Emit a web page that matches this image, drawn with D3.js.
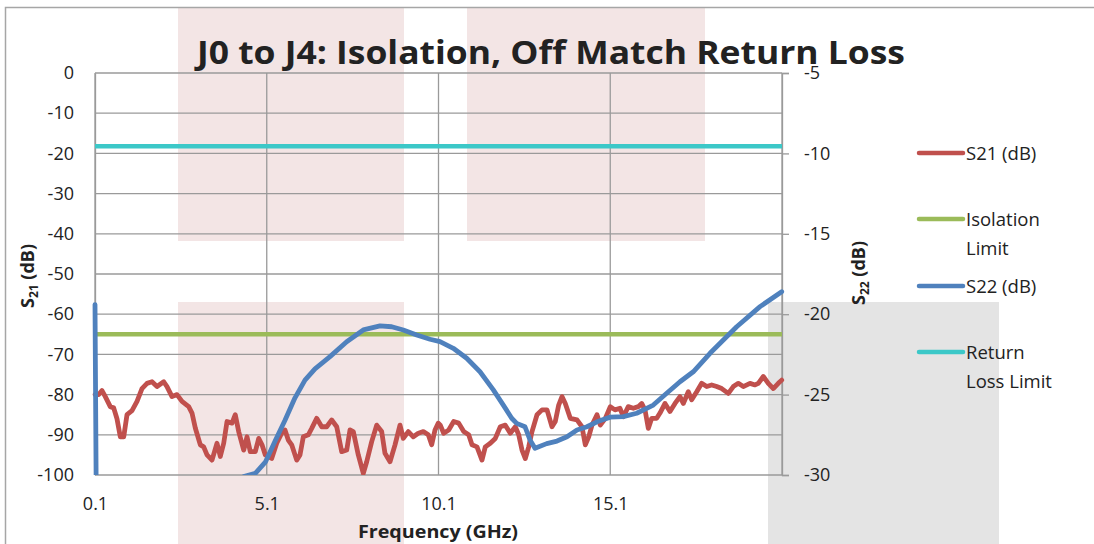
<!DOCTYPE html>
<html><head><meta charset="utf-8">
<script src="https://cdn.jsdelivr.net/npm/d3@7/dist/d3.min.js"></script>
<style>
html,body{margin:0;padding:0;background:#fff;}
svg{display:block;font-family:"Open Sans","Noto Sans",sans-serif;}
</style></head>
<body><svg id="c" width="1094" height="544"></svg>
<script>
const titleText = "J0 to J4: Isolation, Off Match Return Loss";
const xTicks = [0.1, 5.1, 10.1, 15.1, 20.1];
const xTickLabels = ["0.1", "5.1", "10.1", "15.1", ""];
const leftTicks = [0,-10,-20,-30,-40,-50,-60,-70,-80,-90,-100];
const rightTicks = [-5,-10,-15,-20,-25,-30];
const legendLabels = [["S21 (dB)"], ["Isolation", "Limit"], ["S22 (dB)"], ["Return", "Loss Limit"]];

const freqS21 = [0.1,0.208,0.304,0.400,0.545,0.644,0.740,0.837,0.936,1.032,1.177,1.323,1.468,1.614,1.759,1.905,2.100,2.196,2.342,2.487,2.633,2.828,2.924,3.020,3.166,3.264,3.361,3.506,3.652,3.748,3.847,3.943,4.088,4.184,4.283,4.429,4.525,4.621,4.767,4.866,4.962,5.058,5.244,5.390,5.535,5.631,5.727,5.826,5.972,6.068,6.164,6.310,6.409,6.554,6.700,6.845,6.991,7.137,7.282,7.428,7.524,7.620,7.765,7.911,8.010,8.155,8.301,8.446,8.542,8.688,8.834,8.979,9.075,9.221,9.366,9.512,9.658,9.803,9.902,9.998,10.094,10.152,10.251,10.397,10.542,10.688,10.834,10.979,11.075,11.221,11.366,11.462,11.608,11.754,11.899,12.045,12.190,12.336,12.435,12.531,12.627,12.726,12.822,12.968,13.113,13.259,13.404,13.500,13.599,13.695,13.791,13.937,14.132,14.277,14.374,14.473,14.569,14.714,14.810,14.956,15.101,15.238,15.384,15.480,15.625,15.771,15.917,16.015,16.112,16.208,16.307,16.452,16.548,16.694,16.839,16.985,17.130,17.227,17.372,17.471,17.617,17.762,17.908,18.053,18.199,18.345,18.537,18.682,18.828,18.973,19.168,19.314,19.410,19.556,19.701,19.847,19.992,20.091];
const s21 = [-80,-80,-79,-80.5,-83,-83.3,-86,-90.5,-90.5,-85,-84,-81.7,-78.5,-77.2,-76.8,-78,-76.8,-78,-80.5,-80,-81.7,-83,-84.6,-88.3,-92.5,-93,-95,-96.3,-92.1,-95.4,-92.1,-86.7,-87.1,-85,-89.2,-93.8,-90.5,-94.2,-94.2,-90.9,-92.5,-95,-95.9,-92.1,-89.6,-88.8,-91.3,-92.5,-96.3,-95,-90.5,-90,-88.4,-85.9,-88,-88,-86.3,-88,-94.2,-93.8,-88.8,-89.2,-95,-99.6,-96.7,-91.7,-87.6,-89.2,-94.6,-96.7,-92.5,-87.6,-90.9,-89.2,-90.5,-89.6,-89.2,-90,-92.5,-88.8,-87.1,-87.6,-89.6,-88.8,-86.7,-87.1,-89.2,-90,-92.5,-93,-96.3,-93,-92.1,-90.9,-88,-87.6,-89.6,-88,-90,-93.8,-95.9,-93,-89.2,-85,-83.8,-83.8,-88,-86.7,-82.6,-80.5,-82.2,-85.9,-86.3,-88,-92.5,-90.5,-87.6,-85,-87.6,-85.9,-83,-83.8,-83.4,-85.5,-83,-83.4,-83,-82.2,-83.8,-88.4,-85.9,-85.9,-84.6,-82.2,-84.2,-82.2,-80.5,-82.2,-79.3,-81.3,-79.3,-77.2,-78,-77.6,-78,-78.5,-79.7,-78,-77.2,-78,-77.2,-77.6,-77.2,-75.5,-77.2,-78.5,-77.2,-76.4];

const freqS22 = [0.1,0.15,2.0,4.0,4.429,4.767,5.058,5.340,5.631,5.922,6.213,6.504,6.941,7.427,7.911,8.397,8.738,9.075,9.465,9.853,10.144,10.531,10.921,11.308,11.696,11.987,12.231,12.377,12.618,12.764,12.909,13.250,13.550,13.841,14.132,14.423,14.714,15.101,15.480,15.870,16.353,16.743,17.130,17.517,18.004,18.781,19.460,20.091];
const s22 = [-19.4,-36,-34,-31,-30.1,-29.9,-29.2,-27.9,-26.6,-25.2,-24.1,-23.4,-22.64,-21.71,-20.98,-20.73,-20.78,-20.98,-21.29,-21.56,-21.71,-22.12,-22.74,-23.58,-24.71,-25.65,-26.47,-26.79,-27.0,-27.82,-28.34,-28.05,-27.89,-27.62,-27.2,-27.0,-26.69,-26.4,-26.37,-26.16,-25.65,-24.92,-24.2,-23.58,-22.43,-20.78,-19.53,-18.6];

const limitFreq = [0.1, 20.1];
const isolationLimit = [-65, -65];      // S21 axis
const returnLossLimit = [-9.55, -9.55]; // S22 axis

const colors = {s21:"#c0504d", iso:"#9bbb59", s22:"#4f81bd", rl:"#3cc8c8"};

const svg = d3.select("#c");
const L = 95, R = 782, T = 73, B = 475;
const x = d3.scaleLinear().domain([0.1, 20.1]).range([L, R]);
const yL = d3.scaleLinear().domain([-100, 0]).range([B, T]);
const yR = d3.scaleLinear().domain([-30, -5]).range([B, T]);
const fmt = d => String(d);

// background shading blocks
const shades = [
  {x0:178,x1:404,y0:7,y1:241,c:"#f3e5e5"},
  {x0:467,x1:705,y0:7,y1:241,c:"#f3e5e5"},
  {x0:178,x1:404,y0:302,y1:544,c:"#f3e5e5"},
  {x0:768,x1:999,y0:302,y1:544,c:"#e4e4e4"}
];
svg.selectAll("rect.shade").data(shades).join("rect").attr("class","shade")
  .attr("x",d=>d.x0).attr("y",d=>d.y0).attr("width",d=>d.x1-d.x0).attr("height",d=>d.y1-d.y0).attr("fill",d=>d.c);

// outer frame
svg.append("path").attr("d","M5.5,544 V7.5 H1094").attr("fill","none").attr("stroke","#a6a6a6").attr("stroke-width",1.5);

const gridC = "#9a9a9a";
svg.append("g").selectAll("line").data(leftTicks).join("line")
  .attr("x1",L).attr("x2",R).attr("y1",d=>yL(d)).attr("y2",d=>yL(d))
  .attr("stroke",gridC).attr("stroke-width",1.3);
svg.append("g").selectAll("line").data(xTicks).join("line")
  .attr("x1",d=>x(d)).attr("x2",d=>x(d)).attr("y1",T).attr("y2",B)
  .attr("stroke",gridC).attr("stroke-width",1.3);

const tickFont = 18;
// right axis
const rAxis = d3.axisRight(yR).tickValues(rightTicks).tickSize(7).tickPadding(15).tickFormat(fmt);
const gR = svg.append("g").attr("transform",`translate(${R},0)`).call(rAxis);
gR.select(".domain").attr("stroke",gridC).attr("stroke-width",1.3);
gR.selectAll(".tick line").attr("stroke",gridC).attr("stroke-width",1.3);
gR.selectAll("text").attr("font-size",tickFont).attr("fill","#222").attr("font-family","Open Sans");

// left axis
const lAxis = d3.axisLeft(yL).tickValues(leftTicks).tickSize(0).tickPadding(21).tickFormat(fmt);
const gL = svg.append("g").attr("transform",`translate(${L},0)`).call(lAxis);
gL.select(".domain").attr("stroke",gridC).attr("stroke-width",1.3);
gL.selectAll("text").attr("font-size",tickFont).attr("fill","#222").attr("font-family","Open Sans");

// bottom axis
const bAxis = d3.axisBottom(x).tickValues(xTicks).tickSize(0).tickPadding(22).tickFormat((d,i)=>xTickLabels[i]);
const gB = svg.append("g").attr("transform",`translate(0,${B})`).call(bAxis);
gB.select(".domain").remove();
gB.selectAll("text").attr("font-size",tickFont).attr("fill","#222").attr("font-family","Open Sans");

// clip
svg.append("clipPath").attr("id","plot").append("rect").attr("x",L-3).attr("y",T-3).attr("width",R-L+6).attr("height",B-T+3);
const g = svg.append("g").attr("clip-path","url(#plot)");

const lineL = d3.line().x(d=>x(d[0])).y(d=>yL(d[1]));
const lineR = d3.line().x(d=>x(d[0])).y(d=>yR(d[1]));

g.append("path").datum(limitFreq.map((f,i)=>[f,returnLossLimit[i]])).attr("d",lineR)
  .attr("fill","none").attr("stroke",colors.rl).attr("stroke-width",4.5);
g.append("path").datum(freqS21.map((f,i)=>[f,s21[i]])).attr("d",lineL)
  .attr("fill","none").attr("stroke",colors.s21).attr("stroke-width",4.8).attr("stroke-linejoin","round").attr("stroke-linecap","round");
g.append("path").datum(limitFreq.map((f,i)=>[f,isolationLimit[i]])).attr("d",lineL)
  .attr("fill","none").attr("stroke",colors.iso).attr("stroke-width",4.5);
g.append("path").datum(freqS22.map((f,i)=>[f,s22[i]])).attr("d",lineR)
  .attr("fill","none").attr("stroke",colors.s22).attr("stroke-width",4.8).attr("stroke-linejoin","round").attr("stroke-linecap","round");

// title
svg.append("text").attr("x",551).attr("y",64).attr("text-anchor","middle")
  .attr("font-size",33).attr("font-weight","bold").attr("fill","#222")
  .attr("textLength",708).attr("lengthAdjust","spacingAndGlyphs").text(titleText);

// axis titles
svg.append("text").attr("x",438).attr("y",538).attr("text-anchor","middle")
  .attr("font-size",18).attr("font-weight","bold").attr("fill","#222")
  .attr("textLength",160).attr("lengthAdjust","spacingAndGlyphs").text("Frequency (GHz)");

function yTitle(xp, yp, sub){
  const t = svg.append("text").attr("transform",`translate(${xp},${yp}) rotate(-90)`).attr("text-anchor","middle")
    .attr("font-size",18).attr("font-weight","bold").attr("fill","#222");
  t.append("tspan").text("S");
  t.append("tspan").attr("font-size",12).attr("dy",4).text(sub);
  t.append("tspan").attr("dy",-4).text(" (dB)");
}
yTitle(34, 276, "21");
yTitle(865, 273, "22");

// legend
const legendColors = [colors.s21, colors.iso, colors.s22, colors.rl];
const legendY = [153, 219, 286, 352];
const lg = svg.append("g");
legendLabels.forEach((lab,i)=>{
  lg.append("line").attr("x1",919).attr("x2",963).attr("y1",legendY[i]).attr("y2",legendY[i])
    .attr("stroke",legendColors[i]).attr("stroke-width",4.5).attr("stroke-linecap","round");
  const t = lg.append("text").attr("x",966).attr("y",legendY[i]+7).attr("font-size",18.5).attr("fill","#222");
  lab.forEach((s,j)=>t.append("tspan").attr("x",966).attr("dy",j===0?0:29).text(s));
});
</script></body></html>
